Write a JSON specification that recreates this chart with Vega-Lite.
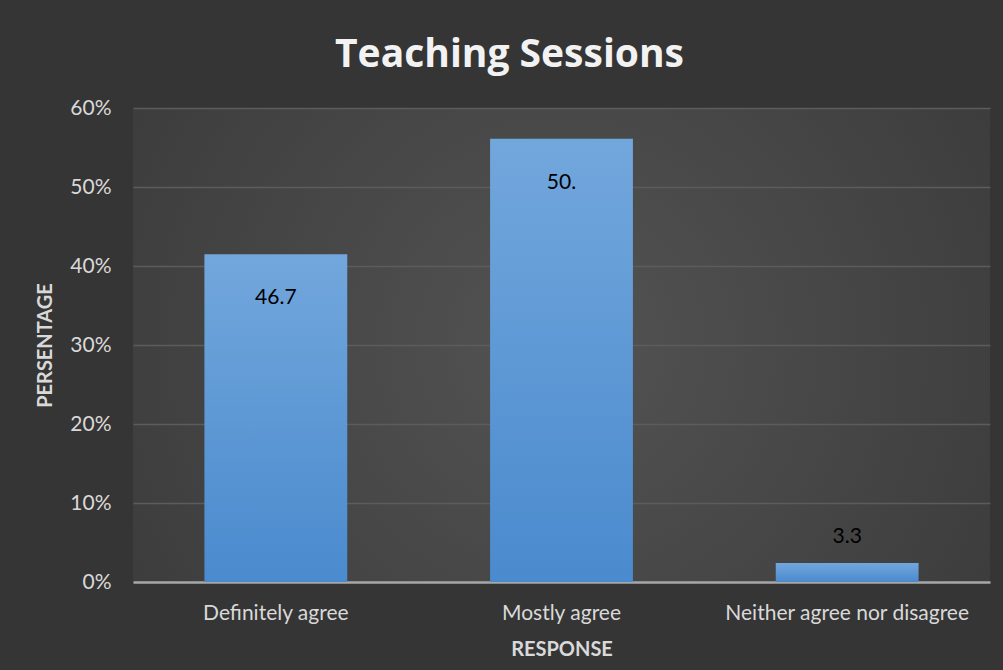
{
  "$schema": "https://vega.github.io/schema/vega-lite/v6.json",
  "autosize": {"type": "none"},
  "width": 857,
  "height": 474,
  "padding": {"left": 133, "top": 108, "right": 13, "bottom": 88},
  "background": "#353535",
  "config": {
    "view": {
      "stroke": null,
      "fill": {
        "gradient": "radial",
        "x1": 0.5, "y1": 0.5, "r1": 0,
        "x2": 0.5, "y2": 0.5, "r2": 0.72,
        "stops": [
          {"offset": 0, "color": "#535353"},
          {"offset": 1, "color": "#373737"}
        ]
      }
    },
    "font": "Lato"
  },
  "title": {
    "text": "Teaching Sessions",
    "font": "Open Sans",
    "fontSize": 39,
    "fontWeight": "bold",
    "color": "#f2f2f2",
    "anchor": "middle",
    "dx": -52,
    "offset": 22
  },
  "data": {
    "values": [
      {"response": "Definitely agree", "pct": 0.415, "label": "46.7"},
      {"response": "Mostly agree", "pct": 0.561, "label": "50."},
      {"response": "Neither agree nor disagree", "pct": 0.024, "label": "3.3"}
    ]
  },
  "encoding": {
    "x": {
      "field": "response",
      "type": "nominal",
      "sort": null,
      "scale": {"paddingInner": 0.5, "paddingOuter": 0.25},
      "axis": {
        "title": "RESPONSE",
        "titleFont": "Lato",
        "titleFontSize": 20,
        "titleFontWeight": "bold",
        "titleColor": "#d9d9d9",
        "titlePadding": 16,
        "labelAngle": 0,
        "labelFont": "Lato",
        "labelFontSize": 21,
        "labelColor": "#d9d9d9",
        "labelPadding": 20,
        "labelLimit": 0,
        "ticks": false,
        "domainColor": "#a6a6a6",
        "domainWidth": 2.5
      }
    },
    "y": {
      "field": "pct",
      "type": "quantitative",
      "scale": {"domain": [0, 0.6]},
      "axis": {
        "title": "PERSENTAGE",
        "titleFont": "Lato",
        "titleFontSize": 20,
        "titleFontWeight": "bold",
        "titleColor": "#d9d9d9",
        "titlePadding": 14,
        "values": [0, 0.1, 0.2, 0.3, 0.4, 0.5, 0.6],
        "format": ".0%",
        "labelFont": "Lato",
        "labelFontSize": 21,
        "labelColor": "#d9d9d9",
        "labelPadding": 22,
        "ticks": false,
        "domain": false,
        "grid": true,
        "gridColor": "#5c5c5c",
        "gridWidth": 1.5
      }
    }
  },
  "layer": [
    {
      "mark": {
        "type": "bar",
        "color": {
          "gradient": "linear",
          "x1": 0, "y1": 0, "x2": 0, "y2": 1,
          "stops": [
            {"offset": 0, "color": "#72a7dc"},
            {"offset": 1, "color": "#4a8ace"}
          ]
        }
      }
    },
    {
      "transform": [{"filter": "datum.pct > 0.1"}],
      "mark": {"type": "text", "baseline": "middle", "dy": 44, "fontSize": 21, "font": "Lato", "color": "#000000"},
      "encoding": {"text": {"field": "label"}}
    },
    {
      "transform": [{"filter": "datum.pct <= 0.1"}],
      "mark": {"type": "text", "baseline": "middle", "dy": -26, "fontSize": 21, "font": "Lato", "color": "#000000"},
      "encoding": {"text": {"field": "label"}}
    }
  ]
}
